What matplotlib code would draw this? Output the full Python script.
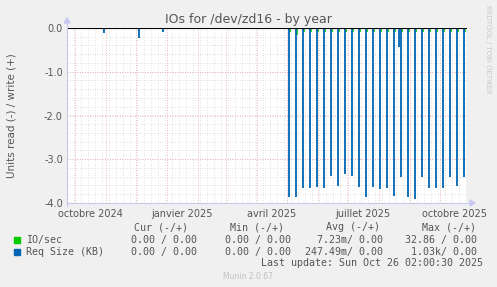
import matplotlib
matplotlib.use("Agg")
import matplotlib.pyplot as plt
import matplotlib.dates as mdates
import numpy as np
import datetime as dt

# ---------------- data ----------------
req_dates = ["2024-10-30", "2024-12-04", "2024-12-28",
             "2025-05-03", "2025-05-10", "2025-05-17", "2025-05-24", "2025-05-31",
             "2025-06-07", "2025-06-14", "2025-06-21", "2025-06-28", "2025-07-05",
             "2025-07-12", "2025-07-19", "2025-07-26", "2025-08-02", "2025-08-09",
             "2025-08-16", "2025-08-21", "2025-08-23", "2025-08-30", "2025-09-06",
             "2025-09-13", "2025-09-20", "2025-09-27", "2025-10-04", "2025-10-11",
             "2025-10-18", "2025-10-25"]
req_values = [-0.12, -0.22, -0.10,
              -3.87, -3.87, -3.65, -3.65, -3.63,
              -3.65, -3.38, -3.60, -3.34, -3.38,
              -3.63, -3.87, -3.63, -3.68, -3.65,
              -3.85, -0.43, -3.40, -3.87, -3.91,
              -3.41, -3.65, -3.65, -3.65, -3.41,
              -3.60, -3.40]

io_dates = ["2025-05-04", "2025-05-11", "2025-05-18", "2025-05-25", "2025-06-01",
            "2025-06-08", "2025-06-15", "2025-06-22", "2025-06-29", "2025-07-06",
            "2025-07-13", "2025-07-20", "2025-07-27", "2025-08-03", "2025-08-10",
            "2025-08-17", "2025-08-24", "2025-08-31", "2025-09-07", "2025-09-14",
            "2025-09-21", "2025-09-28", "2025-10-05", "2025-10-12", "2025-10-19",
            "2025-10-26"]
io_values = [-0.08, -0.16, -0.08, -0.08, -0.08,
             -0.08, -0.08, -0.08, -0.08, -0.08,
             -0.08, -0.08, -0.08, -0.08, -0.08,
             -0.08, -0.08, -0.08, -0.08, -0.08,
             -0.08, -0.08, -0.08, -0.08, -0.08,
             -0.08]

x_start = "2024-09-23"
x_end = "2025-10-28"
xtick_labels = ["octobre 2024", "janvier 2025", "avril 2025", "juillet 2025", "octobre 2025"]
xtick_dates = ["2024-10-16", "2025-01-16", "2025-04-16", "2025-07-16", "2025-10-16"]
yticks = [0.0, -1.0, -2.0, -3.0, -4.0]

title = "IOs for /dev/zd16 - by year"
ylabel = "Units read (-) / write (+)"
legend_names = ["IO/sec", "Req Size (KB)"]
legend_colors = ["#00CC00", "#0066B3"]
col_headers = ["Cur (-/+)", "Min (-/+)", "Avg (-/+)", "Max (-/+)"]
rows = [["0.00 / 0.00", "0.00 / 0.00", "7.23m/ 0.00", "32.86 / 0.00"],
        ["0.00 / 0.00", "0.00 / 0.00", "247.49m/ 0.00", "1.03k/ 0.00"]]
last_update = "Last update: Sun Oct 26 02:00:30 2025"
footer = "Munin 2.0.67"
side_text = "RRDTOOL / TOBI OETIKER"

# ---------------- figure ----------------
W, H = 497, 287
fig = plt.figure(figsize=(W / 100, H / 100), dpi=100, facecolor="#F0F0F0")
L, R, T, B = 67, 467, 28, 203
ax = fig.add_axes([L / W, 1 - B / H, (R - L) / W, (B - T) / H])
ax.set_facecolor("white")

def d(s):
    return mdates.date2num(dt.datetime.strptime(s, "%Y-%m-%d"))

x0, x1 = d(x_start), d(x_end)
ax.set_xlim(x0, x1)
ax.set_ylim(-4.0, 0.0)

# grid: minor (gray, weekly / 0.2), major (red, monthly / 1.0)
start = dt.date(2024, 9, 23)
wk = [mdates.date2num(dt.datetime.combine(start + dt.timedelta(days=7 * i), dt.time())) for i in range(60)]
for v in wk:
    if x0 < v < x1:
        ax.axvline(v, color="#d8d8d8", lw=0.6, ls=(0, (1, 2)), zorder=0)
for yv in np.arange(-4.0, 0.01, 0.2):
    ax.axhline(yv, color="#d8d8d8", lw=0.6, ls=(0, (1, 2)), zorder=0)
months = []
for yr in (2024, 2025):
    for m in range(1, 13):
        v = mdates.date2num(dt.datetime(yr, m, 1))
        if x0 < v < x1:
            months.append(v)
for v in months:
    ax.axvline(v, color="#e8a0a0", lw=0.6, ls=(0, (1, 2)), zorder=0.5)
for yv in yticks:
    ax.axhline(yv, color="#e8a0a0", lw=0.6, ls=(0, (1, 2)), zorder=0.5)

# data
ax.vlines([d(s) for s in io_dates], io_values, 0, color=legend_colors[0], lw=1.2, zorder=2)
ax.vlines([d(s) for s in req_dates], req_values, 0, color=legend_colors[1], lw=1.3, zorder=3)
ax.axhline(0, color="black", lw=0.8, zorder=4)

# axes styling
for s in ax.spines.values():
    s.set_visible(False)
ax.set_xticks([d(s) for s in xtick_dates])
ax.set_xticklabels(xtick_labels)
ax.set_yticks(yticks)
ax.set_yticklabels(["%.1f" % v for v in yticks])
ax.tick_params(axis="both", length=0, labelsize=7, colors="#555555", pad=3)
ax.tick_params(axis="x", pad=4)

# axis lines with arrows (in figure pixel coords)
def fx(px):
    return px / W
def fy(py):
    return 1 - py / H
axis_col = "#c8c8f0"
fig.add_artist(plt.Line2D([fx(L), fx(R + 3)], [fy(B), fy(B)], color=axis_col, lw=0.8))
fig.add_artist(plt.Line2D([fx(L), fx(L)], [fy(B + 3), fy(T - 5)], color=axis_col, lw=0.8))
fig.add_artist(plt.Polygon([[fx(R + 3), fy(B - 3)], [fx(R + 3), fy(B + 3)], [fx(R + 8), fy(B)]],
                           closed=True, color=axis_col, transform=fig.transFigure))
fig.add_artist(plt.Polygon([[fx(L - 3), fy(T - 5)], [fx(L + 3), fy(T - 5)], [fx(L), fy(T - 10)]],
                           closed=True, color=axis_col, transform=fig.transFigure))

# texts
fig.text(fx(248), fy(19), title, ha="center", va="center", fontsize=9, color="#555555")
fig.text(fx(12), fy((T + B) / 2), ylabel, rotation=90, ha="center", va="center",
         fontsize=7.5, color="#555555")
fig.text(fx(488), fy(5), side_text, rotation=270, ha="center", va="top",
         fontsize=5, color="#c8c8c8")

mono = "DejaVu Sans Mono"
fs = 7.2
tc = "#555555"
hdr_x = [161, 257.5, 353.5, 449.5]
for x, h in zip(hdr_x, col_headers):
    fig.text(fx(x), fy(227), h, ha="center", va="center", fontsize=fs, family=mono, color=tc)
val_right = [197, 291, 383, 477]
row_y = [239.7, 251.7]
for i, (name, col) in enumerate(zip(legend_names, legend_colors)):
    fig.add_artist(plt.Rectangle((fx(14), fy(row_y[i] + 3)), 6 / W, 6 / H, color=col,
                                 transform=fig.transFigure))
    fig.text(fx(26), fy(row_y[i]), name, ha="left", va="center", fontsize=fs, family=mono, color=tc)
    for x, v in zip(val_right, rows[i]):
        fig.text(fx(x), fy(row_y[i]), v, ha="right", va="center", fontsize=fs, family=mono, color=tc)
fig.text(fx(483), fy(263.3), last_update, ha="right", va="center", fontsize=fs, family=mono, color=tc)
fig.text(fx(248), fy(276.3), footer, ha="center", va="center", fontsize=5.5, color="#c0c0c0")

fig.savefig("out.png", dpi=100, facecolor=fig.get_facecolor())
